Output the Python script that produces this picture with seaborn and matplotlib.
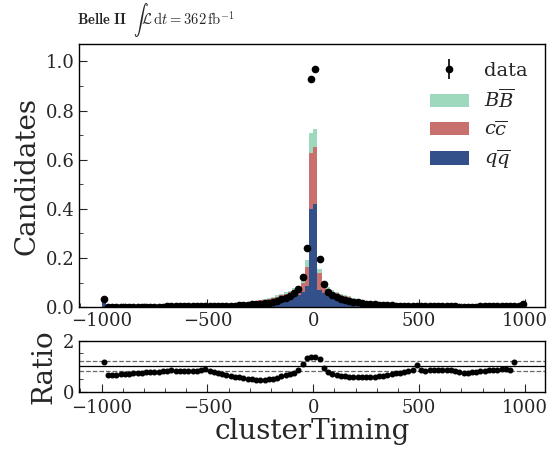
import numpy as np
import pandas as pd
import matplotlib
matplotlib.use("Agg")
import matplotlib.pyplot as plt
import seaborn as sns
from matplotlib.patches import Patch
from matplotlib.ticker import MultipleLocator

# binning: 100 bins of 20 from -1000 to 1000
bin_edges = np.arange(-1000, 1001, 20)
bin_centers = (bin_edges[:-1] + bin_edges[1:]) / 2

# MC components (stacked), per bin
qq = [0.0200, 0.0017, 0.0017, 0.0017, 0.0017, 0.0017, 0.0017, 0.0017, 0.0017, 0.0017,
      0.0018, 0.0018, 0.0018, 0.0018, 0.0018, 0.0019, 0.0019, 0.0019, 0.0019, 0.0019,
      0.0020, 0.0020, 0.0021, 0.0021, 0.0023, 0.0024, 0.0028, 0.0032, 0.0038, 0.0044,
      0.0052, 0.0064, 0.0075, 0.0093, 0.0110, 0.0128, 0.0151, 0.0174, 0.0197, 0.0220,
      0.0249, 0.0278, 0.0313, 0.0348, 0.0389, 0.0441, 0.0510, 0.0600, 0.0850, 0.4000,
      0.4200, 0.0700, 0.0560, 0.0476, 0.0406, 0.0360, 0.0319, 0.0284, 0.0255, 0.0226,
      0.0197, 0.0174, 0.0151, 0.0133, 0.0116, 0.0099, 0.0081, 0.0070, 0.0058, 0.0049,
      0.0042, 0.0036, 0.0032, 0.0028, 0.0024, 0.0023, 0.0021, 0.0020, 0.0020, 0.0019,
      0.0019, 0.0019, 0.0019, 0.0019, 0.0019, 0.0019, 0.0019, 0.0019, 0.0019, 0.0019,
      0.0019, 0.0019, 0.0019, 0.0019, 0.0020, 0.0020, 0.0021, 0.0023, 0.0032, 0.0080]
cc = [0.0060, 0.0010, 0.0010, 0.0010, 0.0010, 0.0010, 0.0010, 0.0010, 0.0010, 0.0010,
      0.0010, 0.0010, 0.0010, 0.0010, 0.0010, 0.0010, 0.0010, 0.0010, 0.0011, 0.0011,
      0.0011, 0.0011, 0.0011, 0.0012, 0.0012, 0.0014, 0.0015, 0.0018, 0.0021, 0.0024,
      0.0029, 0.0035, 0.0042, 0.0051, 0.0061, 0.0070, 0.0083, 0.0096, 0.0109, 0.0122,
      0.0138, 0.0154, 0.0173, 0.0192, 0.0214, 0.0243, 0.0282, 0.0380, 0.0800, 0.2260,
      0.2300, 0.0700, 0.0340, 0.0262, 0.0224, 0.0198, 0.0176, 0.0157, 0.0141, 0.0125,
      0.0109, 0.0096, 0.0083, 0.0074, 0.0064, 0.0054, 0.0045, 0.0038, 0.0032, 0.0027,
      0.0023, 0.0020, 0.0018, 0.0015, 0.0014, 0.0012, 0.0012, 0.0011, 0.0011, 0.0011,
      0.0011, 0.0010, 0.0010, 0.0010, 0.0010, 0.0010, 0.0010, 0.0010, 0.0010, 0.0010,
      0.0010, 0.0010, 0.0011, 0.0011, 0.0011, 0.0011, 0.0012, 0.0013, 0.0018, 0.0030]
bb = [0.0020, 0.0003, 0.0003, 0.0003, 0.0003, 0.0003, 0.0003, 0.0003, 0.0003, 0.0003,
      0.0003, 0.0003, 0.0003, 0.0003, 0.0003, 0.0003, 0.0003, 0.0003, 0.0003, 0.0003,
      0.0003, 0.0004, 0.0004, 0.0004, 0.0004, 0.0004, 0.0005, 0.0005, 0.0006, 0.0007,
      0.0009, 0.0011, 0.0013, 0.0016, 0.0019, 0.0022, 0.0026, 0.0030, 0.0034, 0.0038,
      0.0043, 0.0048, 0.0054, 0.0060, 0.0067, 0.0076, 0.0088, 0.0120, 0.0250, 0.0810,
      0.0760, 0.0150, 0.0100, 0.0082, 0.0070, 0.0062, 0.0055, 0.0049, 0.0044, 0.0039,
      0.0034, 0.0030, 0.0026, 0.0023, 0.0020, 0.0017, 0.0014, 0.0012, 0.0010, 0.0009,
      0.0007, 0.0006, 0.0005, 0.0005, 0.0004, 0.0004, 0.0004, 0.0004, 0.0003, 0.0003,
      0.0003, 0.0003, 0.0003, 0.0003, 0.0003, 0.0003, 0.0003, 0.0003, 0.0003, 0.0003,
      0.0003, 0.0003, 0.0003, 0.0003, 0.0003, 0.0004, 0.0004, 0.0004, 0.0005, 0.0010]

# data points, per bin
data = [0.0320, 0.0020, 0.0020, 0.0020, 0.0020, 0.0021, 0.0021, 0.0022, 0.0023, 0.0022,
        0.0024, 0.0024, 0.0024, 0.0024, 0.0025, 0.0026, 0.0028, 0.0026, 0.0027, 0.0026,
        0.0028, 0.0029, 0.0029, 0.0031, 0.0034, 0.0034, 0.0036, 0.0040, 0.0044, 0.0049,
        0.0055, 0.0064, 0.0073, 0.0086, 0.0097, 0.0108, 0.0122, 0.0138, 0.0156, 0.0182,
        0.0219, 0.0264, 0.0324, 0.0384, 0.0462, 0.0570, 0.0757, 0.1210, 0.2410, 0.9300,
        0.9700, 0.1950, 0.0930, 0.0620, 0.0490, 0.0410, 0.0347, 0.0294, 0.0255, 0.0218,
        0.0190, 0.0168, 0.0146, 0.0131, 0.0118, 0.0104, 0.0088, 0.0079, 0.0069, 0.0061,
        0.0054, 0.0048, 0.0044, 0.0040, 0.0045, 0.0033, 0.0030, 0.0030, 0.0030, 0.0028,
        0.0028, 0.0027, 0.0027, 0.0026, 0.0025, 0.0024, 0.0024, 0.0025, 0.0024, 0.0026,
        0.0026, 0.0027, 0.0028, 0.0028, 0.0030, 0.0032, 0.0032, 0.0047, 0.0060, 0.0130]

# data / MC, per bin
ratio = [1.15, 0.65, 0.66, 0.67, 0.68, 0.69, 0.71, 0.73, 0.75, 0.74,
         0.76, 0.77, 0.76, 0.78, 0.80, 0.82, 0.86, 0.82, 0.81, 0.80,
         0.81, 0.82, 0.80, 0.84, 0.88, 0.82, 0.76, 0.72, 0.68, 0.65,
         0.61, 0.58, 0.56, 0.54, 0.51, 0.49, 0.47, 0.46, 0.46, 0.48,
         0.51, 0.55, 0.60, 0.64, 0.69, 0.75, 0.86, 1.10, 1.31, 1.35,
         1.37, 1.27, 0.93, 0.76, 0.70, 0.66, 0.63, 0.60, 0.58, 0.56,
         0.56, 0.56, 0.56, 0.57, 0.59, 0.61, 0.63, 0.66, 0.69, 0.72,
         0.75, 0.78, 0.80, 0.84, 1.06, 0.85, 0.82, 0.86, 0.87, 0.86,
         0.86, 0.84, 0.85, 0.82, 0.78, 0.75, 0.75, 0.77, 0.76, 0.80,
         0.82, 0.84, 0.85, 0.86, 0.88, 0.90, 0.86, 1.18, np.nan, np.nan]

samples = ["BB", "cc", "qq"]
labels = {"BB": r"$B\overline{B}$", "cc": r"$c\overline{c}$", "qq": r"$q\overline{q}$"}
colors = {"BB": "#9fd9bd", "cc": "#c8706d", "qq": "#33508a"}

df = pd.DataFrame({
    "clusterTiming": np.tile(bin_centers, 3),
    "weight": bb + cc + qq,
    "sample": ["BB"] * 100 + ["cc"] * 100 + ["qq"] * 100,
})

sns.set_style("ticks")
plt.rcParams["font.family"] = ["DejaVu Serif"]
plt.rcParams["mathtext.fontset"] = "dejavuserif"

fig = plt.figure(figsize=(5.49, 4.51), dpi=100)
ax = fig.add_axes([0.1445, 0.319, 0.849, 0.583])
rax = fig.add_axes([0.1445, 0.1315, 0.849, 0.113])

# stacked MC
sns.histplot(data=df, x="clusterTiming", weights="weight", hue="sample",
             hue_order=samples, multiple="stack", binwidth=20, binrange=(-1000, 1000),
             palette=colors, alpha=1, linewidth=0, legend=False, ax=ax)

# data
eb = ax.errorbar(bin_centers, data, yerr=0.002, fmt="o", color="black",
                 ms=4.5, elinewidth=1.2, capsize=0)

handles = [eb] + [Patch(facecolor=colors[s], edgecolor="none") for s in samples]
ax.legend(handles, ["data"] + [labels[s] for s in samples], loc="upper right",
          frameon=False, fontsize=14, handlelength=2.0, labelspacing=0.42)

ax.set_xlim(-1105, 1097)
ax.set_ylim(0, 1.07)
ax.set_xlabel("")
ax.set_ylabel("Candidates", fontsize=20)
ax.xaxis.set_major_locator(MultipleLocator(500))
ax.xaxis.set_minor_locator(MultipleLocator(100))
ax.yaxis.set_major_locator(MultipleLocator(0.2))
ax.yaxis.set_minor_locator(MultipleLocator(0.1))

# ratio panel
rax.axhline(1.0, color="black", lw=0.9)
rax.axhline(1.2, color="dimgray", lw=0.9, ls="--")
rax.axhline(0.8, color="dimgray", lw=0.9, ls="--")
rax.plot(bin_centers, ratio, "o", color="black", ms=3.3)
rax.set_xlim(-1105, 1097)
rax.set_ylim(0, 2)
rax.set_xlabel("clusterTiming", fontsize=20, labelpad=1)
rax.set_ylabel("Ratio", fontsize=20)
rax.xaxis.set_major_locator(MultipleLocator(500))
rax.xaxis.set_minor_locator(MultipleLocator(100))
rax.yaxis.set_major_locator(MultipleLocator(2))
rax.yaxis.set_minor_locator(MultipleLocator(0.5))

for a in (ax, rax):
    a.tick_params(which="both", direction="in", top=False, right=False, labelsize=13)
    a.tick_params(which="major", length=6)
    a.tick_params(which="minor", length=3)
    for sp in a.spines.values():
        sp.set_visible(True)
        sp.set_color("black")
        sp.set_linewidth(1.0)
rax.tick_params(axis="x", pad=5)

fig.text(0.14, 0.956, r"$\mathbf{Belle\ II}\ \ \int\mathcal{L}\,\mathrm{d}t = 362\,\mathrm{fb}^{-1}$",
         fontsize=10.5, math_fontfamily="cm", va="center", ha="left")

fig.savefig("out.png", dpi=100)
